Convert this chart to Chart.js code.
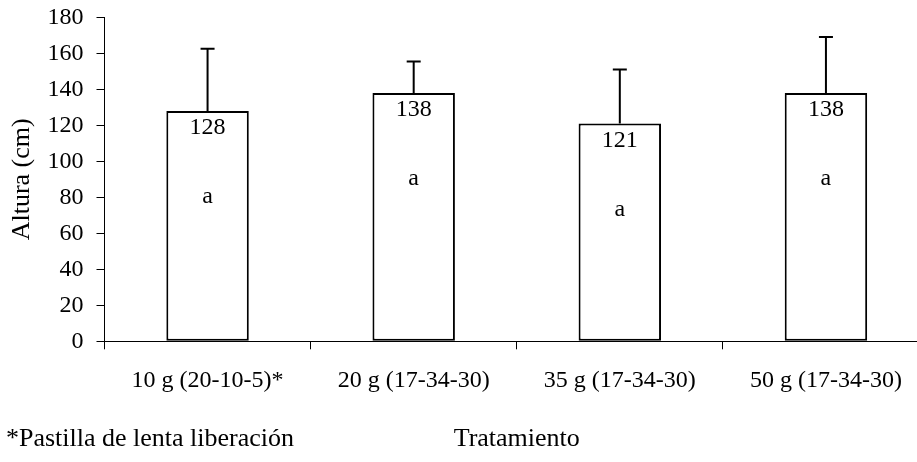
<!DOCTYPE html>
<html>
<head>
<meta charset="utf-8">
<script src="https://cdn.jsdelivr.net/npm/chart.js@4/dist/chart.umd.min.js"></script>
<style>
  html, body { margin: 0; padding: 0; background: #fff; overflow: hidden; }
  #wrap { width: 917px; height: 462px; overflow: hidden; }
  canvas { display: block; }
</style>
</head>
<body>
<div id="wrap"><canvas id="c" width="940" height="462"></canvas></div>
<script>
// Altura media por tratamiento de fertilización
const categories = ['10 g (20-10-5)*', '20 g (17-34-30)', '35 g (17-34-30)', '50 g (17-34-30)'];
const alturas = [128, 138, 121, 138];
const desviaciones = [34.5, 17.5, 30, 31];
const letras = ['a', 'a', 'a', 'a'];
const yTicks = { min: 0, max: 180, step: 20 };
const nota = '*Pastilla de lenta liberación';

const SERIF = '"Liberation Serif", "Times New Roman", serif';

// Barras de error (solo hacia arriba), valores y letras de significancia
const etiquetas = {
  id: 'etiquetas',
  afterDatasetsDraw(chart) {
    const ctx = chart.ctx;
    const y = chart.scales.y;
    const meta = chart.getDatasetMeta(0);
    ctx.save();
    meta.data.forEach((bar, i) => {
      const top = y.getPixelForValue(alturas[i]);
      const tip = y.getPixelForValue(alturas[i] + desviaciones[i]);
      ctx.strokeStyle = '#000';
      ctx.lineWidth = 2;
      ctx.beginPath();
      ctx.moveTo(bar.x, top);
      ctx.lineTo(bar.x, tip);
      ctx.moveTo(bar.x - 7, tip);
      ctx.lineTo(bar.x + 7, tip);
      ctx.stroke();

      ctx.fillStyle = '#000';
      ctx.textAlign = 'center';
      ctx.textBaseline = 'middle';
      ctx.font = '24px ' + SERIF;
      ctx.fillText(String(alturas[i]), bar.x, top + 17);
      ctx.fillText(letras[i], bar.x, top + 86);
    });
    ctx.restore();
  },
  afterDraw(chart) {
    const ctx = chart.ctx;
    ctx.save();
    ctx.fillStyle = '#000';
    ctx.textAlign = 'left';
    ctx.textBaseline = 'middle';
    ctx.font = '26px ' + SERIF;
    ctx.fillText(nota, 6, 439);
    ctx.restore();
  }
};

new Chart(document.getElementById('c'), {
  type: 'bar',
  data: {
    labels: categories,
    datasets: [{
      data: alturas,
      backgroundColor: '#ffffff',
      borderColor: '#000000',
      borderWidth: 2,
      borderSkipped: false,
      barPercentage: 0.4,
      categoryPercentage: 1.0
    }]
  },
  options: {
    responsive: false,
    animation: false,
    devicePixelRatio: 1,
    layout: { padding: { top: 17.3, right: 11, bottom: 0, left: 0 } },
    plugins: {
      legend: { display: false },
      tooltip: { enabled: false }
    },
    scales: {
      x: {
        grid: {
          display: true,
          offset: true,
          drawOnChartArea: false,
          drawTicks: true,
          tickLength: 8,
          color: '#000',
          lineWidth: 1
        },
        border: { display: true, color: '#000', width: 1 },
        ticks: {
          color: '#000',
          padding: 17,
          maxRotation: 0,
          autoSkip: false,
          font: { family: SERIF, size: 24 }
        },
        title: {
          display: true,
          text: 'Tratamiento',
          color: '#000',
          font: { family: SERIF, size: 26 },
          padding: { top: 0, bottom: 7 }
        },
        afterFit(scale) { scale.height = 120.7; }
      },
      y: {
        min: yTicks.min,
        max: yTicks.max,
        grid: {
          display: true,
          drawOnChartArea: false,
          drawTicks: true,
          tickLength: 8,
          color: '#000',
          lineWidth: 1
        },
        border: { display: true, color: '#000', width: 1 },
        ticks: {
          stepSize: yTicks.step,
          color: '#000',
          padding: 13,
          font: { family: SERIF, size: 24 }
        },
        title: {
          display: true,
          text: 'Altura (cm)',
          color: '#000',
          font: { family: SERIF, size: 26 },
          padding: { top: 7, bottom: 0 }
        },
        afterFit(scale) {
          scale.width = 104.5;
          scale.paddingTop = 0;
          scale.paddingBottom = 0;
        }
      }
    }
  },
  plugins: [etiquetas]
});
</script>
</body>
</html>
